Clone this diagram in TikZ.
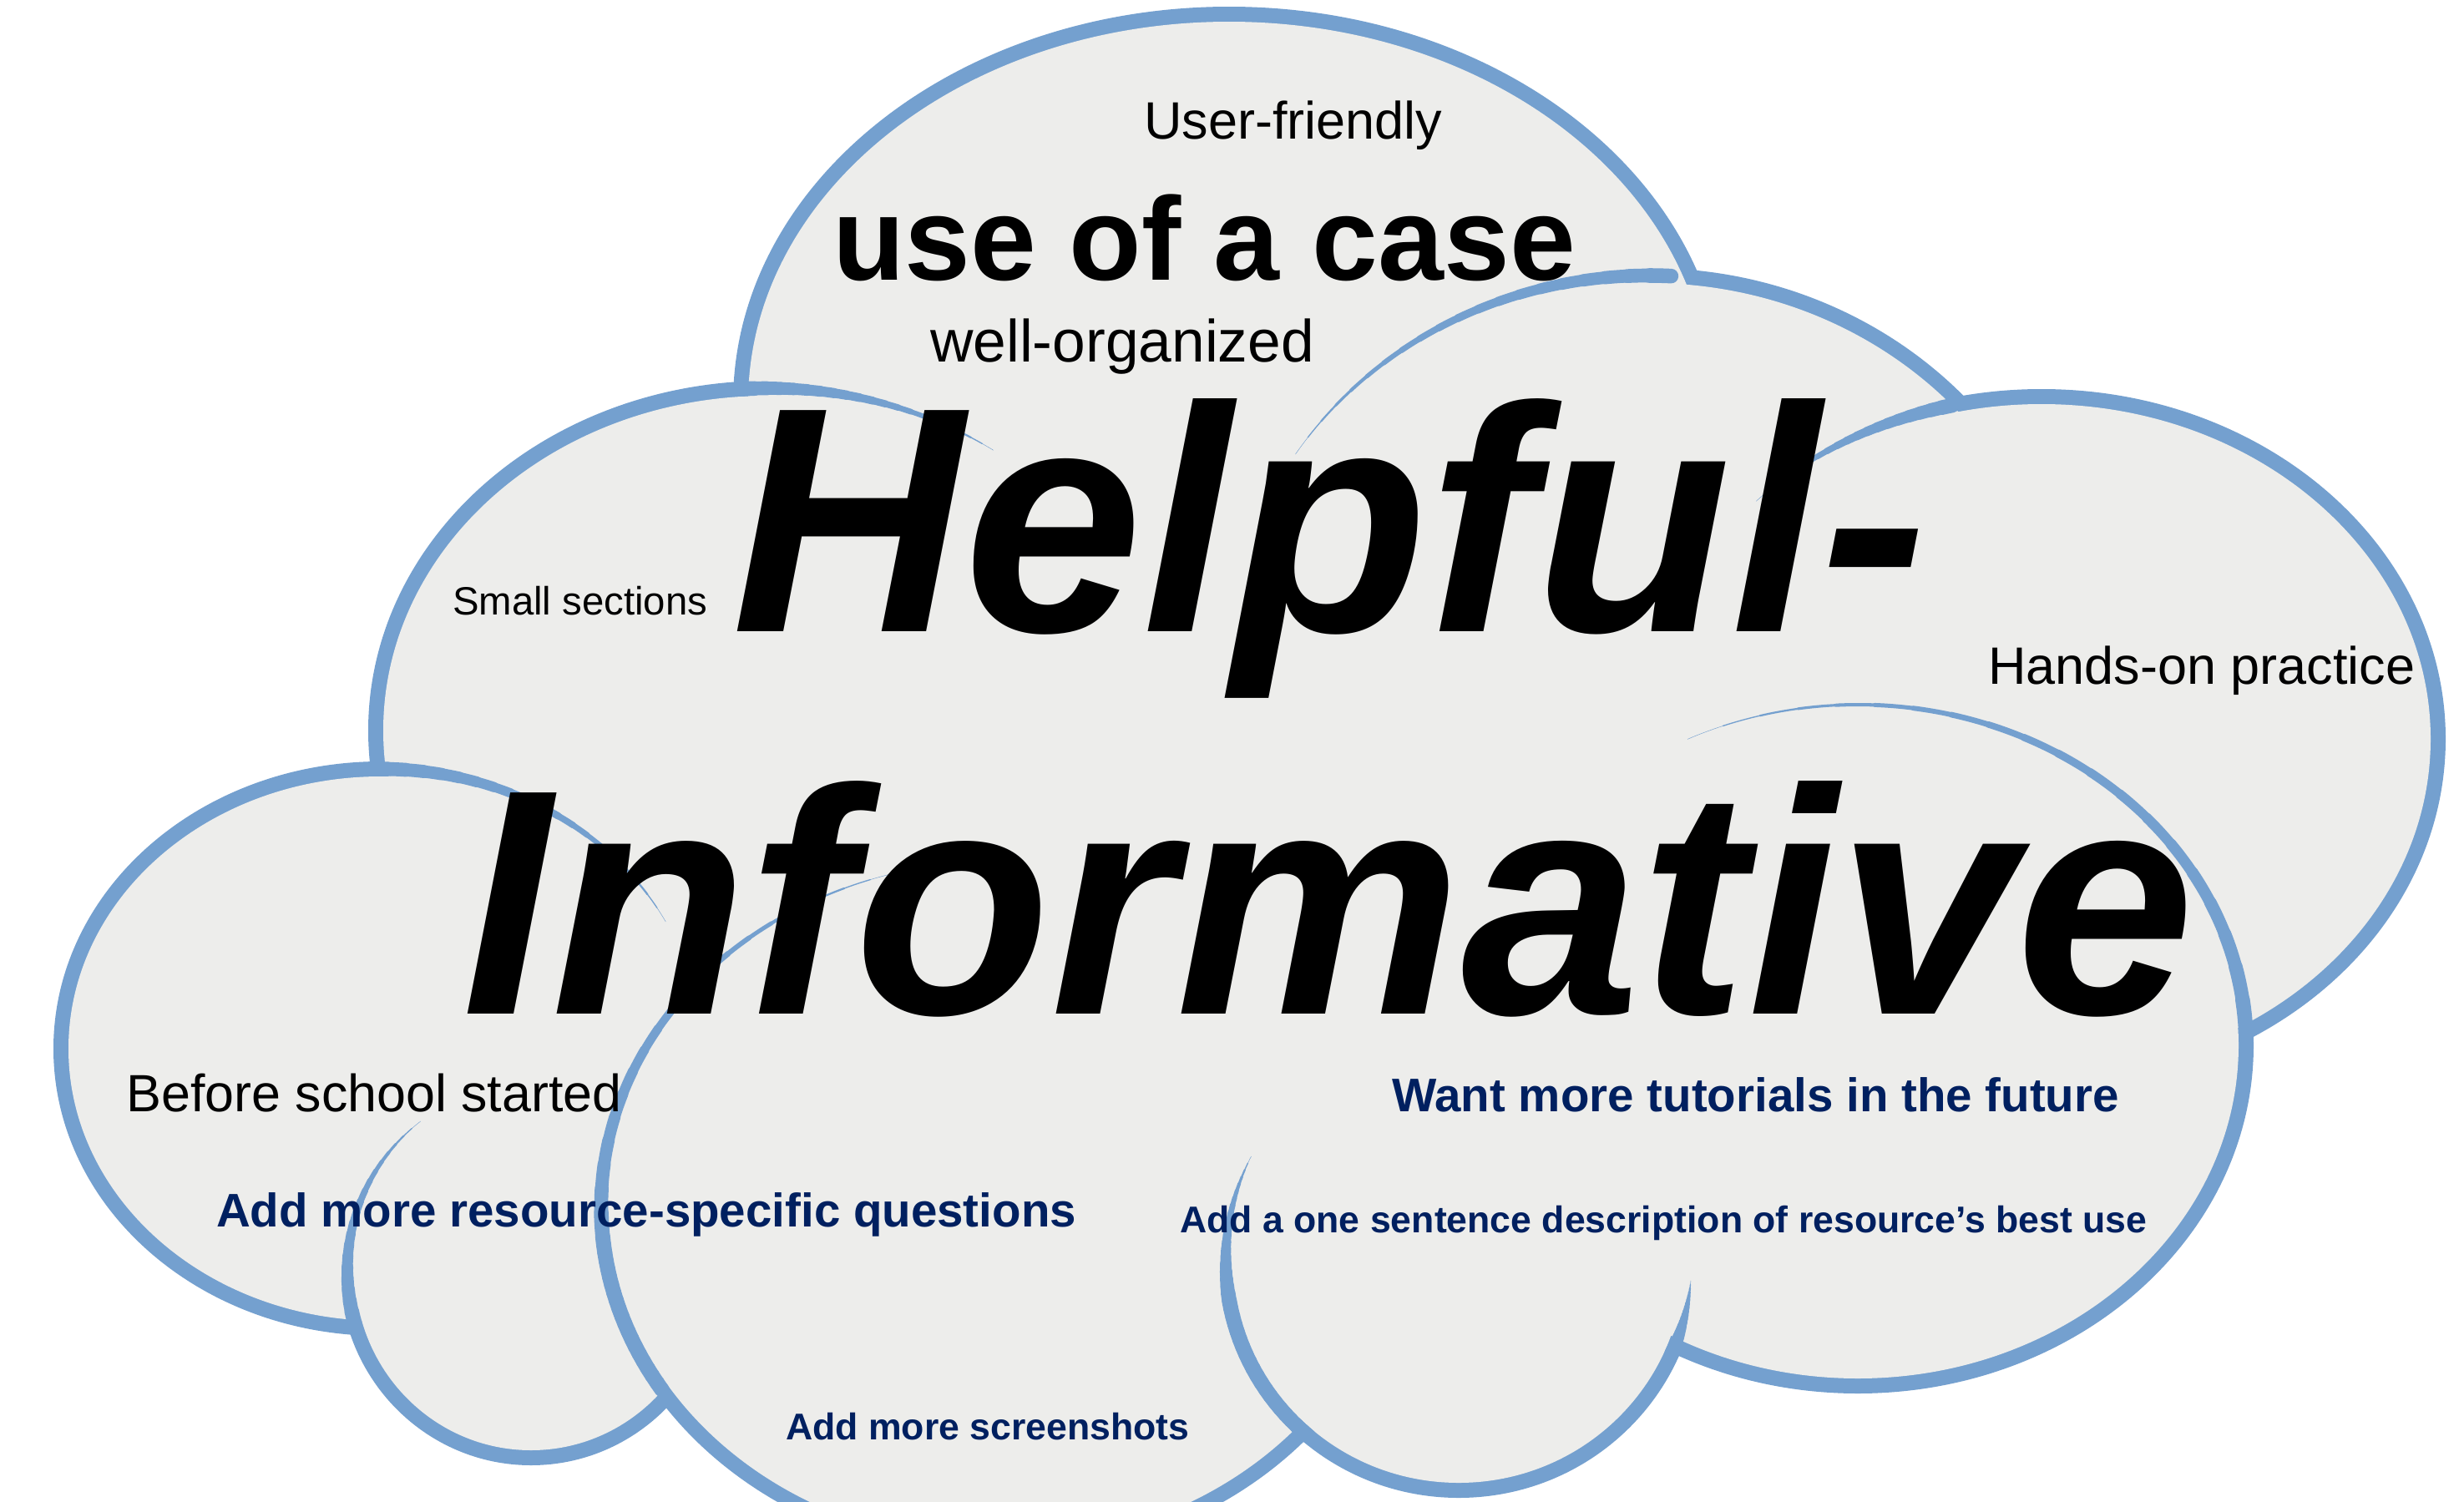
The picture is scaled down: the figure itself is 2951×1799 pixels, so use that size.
\documentclass[tikz,border=0pt]{standalone}
\usepackage{fontspec}
\setmainfont{Liberation Sans}
\definecolor{cloudblue}{RGB}{116,160,207}
\definecolor{cloudgray}{RGB}{237,237,235}
\definecolor{notenavy}{RGB}{0,32,96}

% lobes of the cloud: centre x/centre y/x radius/y radius (pixels, y down)
\newcommand{\cloudlobes}{1472/482/585/465, 1975/800/505/470, 2445/885/475/410,
  2225/1252/465/408, 1747/1510/279/275, 1198/1445/478/414, 636/1522/220/224,
  456/1256/383/335, 920/875/470/410}

% inner rim of a lobe that thins out: centre, radii, from/to angle, from/to width
\newcommand{\rim}[8]{%
  \foreach \k in {0,...,19}{%
    \pgfmathsetmacro{\ta}{(#5)+((#6)-(#5))*\k/20}%
    \pgfmathsetmacro{\tb}{(#5)+((#6)-(#5))*(\k+1)/20}%
    \pgfmathsetmacro{\lw}{(#7)+((#8)-(#7))*(\k+.5)/20}%
    \draw[rimline,line width=\lw pt] ([shift={(\ta:#3 and #4)}]#1,#2)
      arc[start angle=\ta,end angle=\tb,x radius=#3,y radius=#4];}}

\begin{document}
\begin{tikzpicture}[x=1pt,y=-1pt,
  lobe/.style={draw=cloudblue,line width=36pt},
  rimline/.style={cloudblue,line cap=round},
  remark/.style={anchor=base west,inner sep=0pt,font=\fontsize{#1}{#1}\selectfont},
  wish/.style={anchor=base west,inner sep=0pt,text=notenavy,
    font=\bfseries\fontsize{#1}{#1}\selectfont},
  bigword/.style={anchor=base west,inner sep=0pt,
    font=\bfseries\itshape\fontsize{385}{385}\selectfont}]
\useasboundingbox (0,0) rectangle (2951,1799);
\clip (0,0) rectangle (2951,1799);
% outer rim: wide strokes whose inner half the fill covers again
\foreach \cx/\cy/\rx/\ry in \cloudlobes
  \draw[lobe] (\cx,\cy) ellipse[x radius=\rx-9,y radius=\ry-9];
\foreach \cx/\cy/\rx/\ry in \cloudlobes
  \fill[cloudgray] (\cx,\cy) ellipse[x radius=\rx-9,y radius=\ry-9];
\fill[cloudgray] (1500,1050) ellipse[x radius=700,y radius=380];
% rims running into the cloud
\rim{920}{875}{470}{410}{-55}{-94}{0}{18}
\rim{1975}{800}{505}{470}{-147}{-87}{0}{18}
\rim{2445}{885}{475}{410}{-136}{-103}{0}{18}
\rim{2225}{1252}{465}{408}{-116}{-2}{0}{18}
\rim{456}{1256}{383}{335}{-27}{-92}{0}{18}
\rim{1198}{1445}{478}{414}{-105}{-185}{0}{18}
\rim{1198}{1445}{478}{414}{-185}{-212}{18}{18}
\rim{636}{1522}{220}{224}{-127}{-196}{0}{18}
\rim{1747}{1510}{279}{275}{207}{170}{0}{18}
\rim{1747}{1510}{279}{275}{170}{130}{18}{18}
\rim{1747}{1510}{279}{275}{5}{24}{0}{18}
% words
\node[remark=63] (friendly) at (1370,166) {User-friendly};
\node[remark=141.7,font=\bfseries\fontsize{141.7}{141.7}\selectfont] (usecase) at (997,335) {use of a case};
\node[remark=71.3] (organized) at (1114,433) {well-organized};
\node[bigword] (helpful) at (876,756) {Helpful-};
\node[remark=47.3] (sections) at (542,736) {Small sections};
\node[remark=63] (handson) at (2381,819) {Hands-on practice};
\node[bigword] (informative) at (553,1214) {Informative};
\node[remark=62.8] (school) at (151,1331) {Before school started};
\node[wish=56.5] (tutorials) at (1667,1331) {Want more tutorials in the future};
\node[wish=56.5] (questions) at (259,1469) {Add more resource-specific questions};
\node[wish=44.6] (sentence) at (1413,1476) {Add a one sentence description of resource’s best use};
\node[wish=44.6] (screenshots) at (941,1724) {Add more screenshots};
\end{tikzpicture}
\end{document}
